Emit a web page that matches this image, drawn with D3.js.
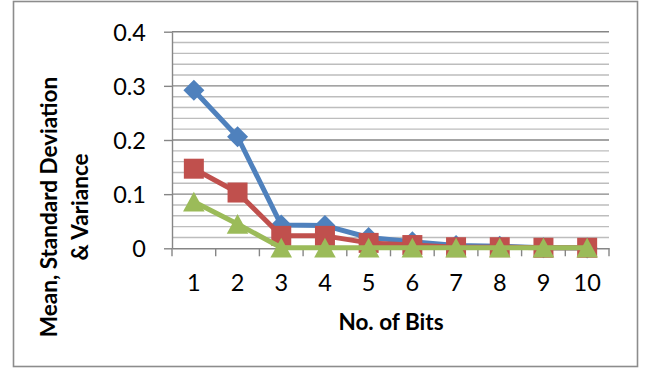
<!DOCTYPE html>
<html>
<head>
<meta charset="utf-8">
<script src="https://cdn.jsdelivr.net/npm/d3@7"></script>
<style>
  html, body { margin: 0; padding: 0; background: #fff; }
  svg { display: block; font-family: Lato, "Open Sans", sans-serif; }
</style>
</head>
<body>
<svg id="chart" width="654" height="372"></svg>
<script>
// Number of bits on the x axis
const categories = ["1", "2", "3", "4", "5", "6", "7", "8", "9", "10"];

// Series values, one entry per number of bits
const seriesBlue  = [0.292, 0.206, 0.043, 0.042, 0.020, 0.012, 0.005, 0.004, 0.001, 0.0005];
const seriesRed   = [0.147, 0.103, 0.023, 0.023, 0.010, 0.006, 0.002, 0.002, 0.001, 0.001];
const seriesGreen = [0.086, 0.045, 0.001, 0.001, 0.001, 0.001, 0.001, 0.001, 0.001, 0.001];

// Axis tick values
const yMajorTicks = [0, 0.1, 0.2, 0.3, 0.4];
const yMinorTicks = d3.range(0, 0.4001, 0.02);

const yTitleLines = ["Mean, Standard Deviation", "& Variance"];
const xTitle = "No. of Bits";

const svg = d3.select("#chart");

const plot = { left: 172, right: 609, top: 31.7, bottom: 248.3 };

const x = d3.scaleBand().domain(categories).range([plot.left, plot.right]);
const y = d3.scaleLinear().domain([0, 0.4]).range([plot.bottom, plot.top]);

// Outer chart frame
svg.append("rect")
  .attr("x", 13.5).attr("y", 1.5)
  .attr("width", 624).attr("height", 365)
  .attr("fill", "#fff")
  .attr("stroke", "#8c8c8c")
  .attr("stroke-width", 1.6);

// Minor gridlines
svg.append("g").selectAll("line")
  .data(yMinorTicks.filter(v => !yMajorTicks.some(m => Math.abs(m - v) < 1e-9)))
  .join("line")
  .attr("x1", plot.left).attr("x2", plot.right)
  .attr("y1", d => y(d)).attr("y2", d => y(d))
  .attr("stroke", "#bdbdbd")
  .attr("stroke-width", 1.4);

// Major gridlines
svg.append("g").selectAll("line")
  .data(yMajorTicks.filter(v => v > 0))
  .join("line")
  .attr("x1", plot.left).attr("x2", plot.right)
  .attr("y1", d => y(d)).attr("y2", d => y(d))
  .attr("stroke", "#868686")
  .attr("stroke-width", 1.4);

// Y axis
const yAxis = svg.append("g")
  .attr("transform", `translate(${plot.left},0)`)
  .call(d3.axisLeft(y).tickValues(yMajorTicks).tickSize(8).tickSizeOuter(0).tickPadding(18)
    .tickFormat(d => d === 0 ? "0" : d3.format(".1f")(d)));
yAxis.select(".domain").attr("stroke", "#868686").attr("stroke-width", 1.4);
yAxis.selectAll(".tick line").attr("stroke", "#868686").attr("stroke-width", 1.4);
yAxis.selectAll(".tick text")
  .attr("font-size", 23.5)
  .attr("fill", "#000")
  .attr("font-family", "Lato, 'Open Sans', sans-serif")
  .attr("dy", "0.36em");

// X axis: line, ticks at category boundaries, labels at centres
const xAxis = svg.append("g")
  .attr("transform", `translate(0,${plot.bottom})`)
  .call(d3.axisBottom(x).tickSize(0).tickPadding(26).tickSizeOuter(0));
xAxis.select(".domain").attr("stroke", "#868686").attr("stroke-width", 1.4);
xAxis.selectAll(".tick text")
  .attr("font-size", 23.5)
  .attr("fill", "#000")
  .attr("font-family", "Lato, 'Open Sans', sans-serif");

const boundaries = categories.map(c => x(c)).concat([x.range()[1]]);
xAxis.append("g").selectAll("line")
  .data(boundaries)
  .join("line")
  .attr("x1", d => d).attr("x2", d => d)
  .attr("y1", 0).attr("y2", 8)
  .attr("stroke", "#868686")
  .attr("stroke-width", 1.4);

// Series lines and markers
const cx = c => x(c) + x.bandwidth() / 2;
const series = [
  { values: seriesBlue,  color: "#4F81BD", marker: "diamond" },
  { values: seriesRed,   color: "#C0504D", marker: "square" },
  { values: seriesGreen, color: "#9BBB59", marker: "triangle" }
];

const line = d3.line().x(d => cx(d.c)).y(d => y(d.v));

function markerPath(type) {
  if (type === "diamond") return "M0,-10.5L10.5,0L0,10.5L-10.5,0Z";
  if (type === "square") return "M-10,-10H10V10H-10Z";
  return "M0,-10L10.8,9.8L-10.8,9.8Z";
}

series.forEach(s => {
  const pts = s.values.map((v, i) => ({ c: categories[i], v }));
  const g = svg.append("g");
  g.append("path")
    .datum(pts)
    .attr("d", line)
    .attr("fill", "none")
    .attr("stroke", s.color)
    .attr("stroke-width", 5)
    .attr("stroke-linejoin", "round");
  g.selectAll("path.m")
    .data(pts)
    .join("path")
    .attr("class", "m")
    .attr("transform", d => `translate(${cx(d.c)},${y(d.v)})`)
    .attr("d", markerPath(s.marker))
    .attr("fill", s.color);
});

// Axis titles
svg.append("text")
  .attr("x", 391).attr("y", 329.5)
  .attr("text-anchor", "middle")
  .attr("font-size", 22.5)
  .attr("font-weight", "bold")
  .attr("fill", "#000")
  .text(xTitle);

const yTitle = svg.append("text")
  .attr("transform", "translate(0,207) rotate(-90)")
  .attr("text-anchor", "middle")
  .attr("font-size", 22.5)
  .attr("font-weight", "bold")
  .attr("fill", "#000");
yTitle.selectAll("tspan")
  .data(yTitleLines)
  .join("tspan")
  .attr("x", 0)
  .attr("y", (d, i) => i === 0 ? 56.5 : 88)
  .text(d => d);
</script>
</body>
</html>
